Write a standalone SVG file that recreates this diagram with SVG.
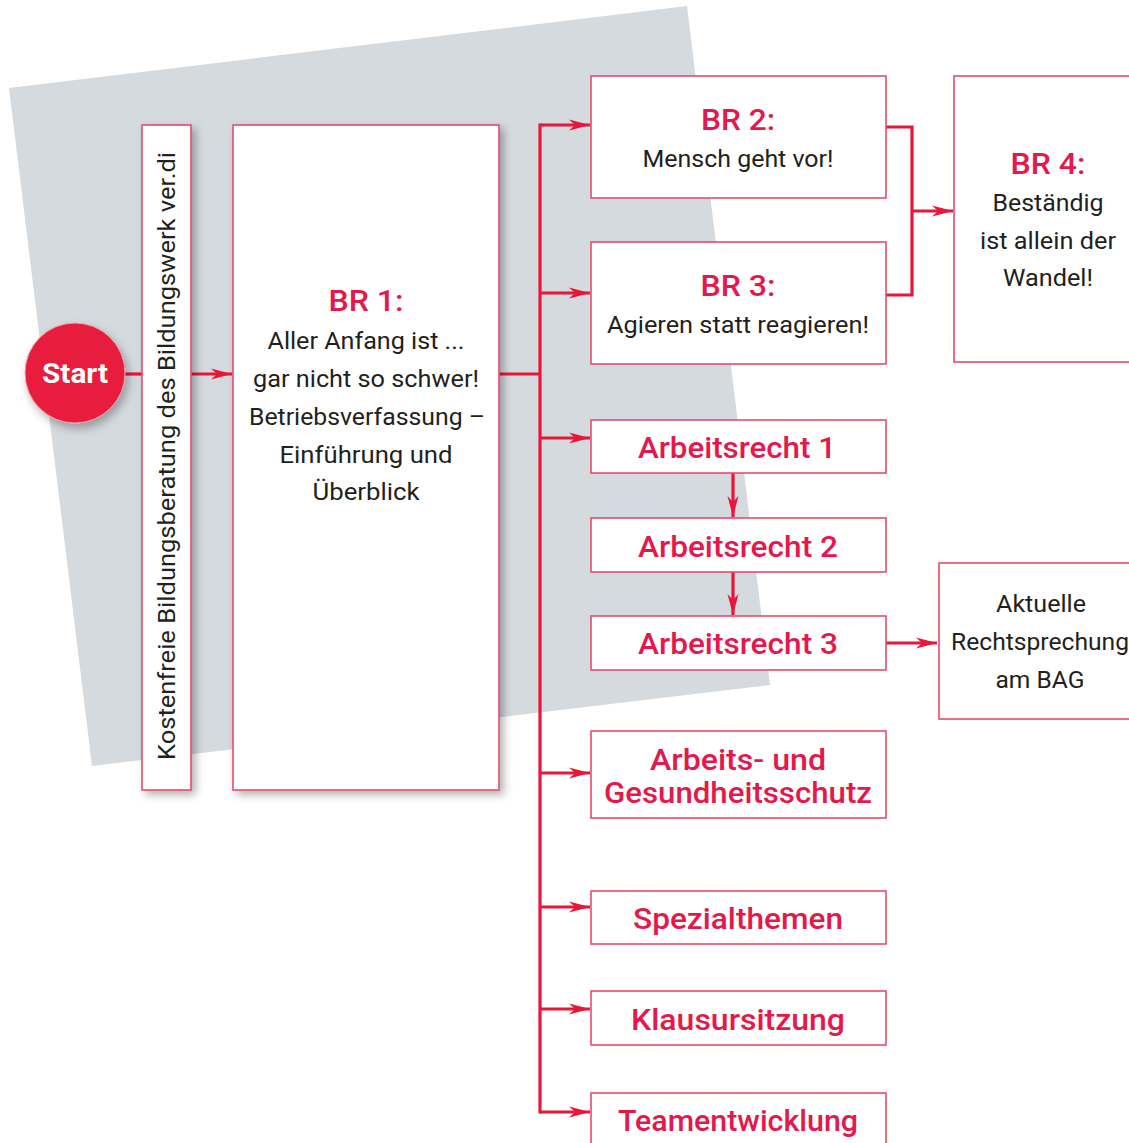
<svg xmlns="http://www.w3.org/2000/svg" width="1129" height="1143" viewBox="0 0 1129 1143">
<defs>
<style>
.box{fill:#ffffff;stroke:#e94a6e;stroke-width:1.6}
.con{fill:none;stroke:#e8173a;stroke-width:3.2}
.t{font-family:"Roboto","DejaVu Sans",sans-serif;text-anchor:middle}
.dark{fill:#231f20;font-size:24px}
.rt{fill:#e5174b;font-size:29px;font-weight:500}
.lab{fill:#e5174b;font-size:30px;font-weight:500}
</style>
<marker id="ah" markerUnits="userSpaceOnUse" markerWidth="22" markerHeight="12" refX="21" refY="6" orient="auto">
<path d="M0,0.5 L21,6 L0,11.5 L6,6 z" fill="#e8173a"/>
</marker>
<filter id="sh" x="-20%" y="-5%" width="150%" height="115%">
<feDropShadow dx="4" dy="4" stdDeviation="4" flood-color="#000" flood-opacity="0.3"/>
</filter>
<filter id="shc" x="-30%" y="-30%" width="170%" height="170%">
<feDropShadow dx="3" dy="5" stdDeviation="5" flood-color="#000" flood-opacity="0.3"/>
</filter>
</defs>

<polygon id="background" points="9,88 687,6 770,685 92,766" fill="#d5dadf"/>

<g id="connectors">
<path class="con" d="M125,374 H142"/>
<path class="con" d="M191,374 H232" marker-end="url(#ah)"/>
<path class="con" d="M499,374 H540"/>
<path class="con" d="M540,125 V1112" stroke-linecap="square"/>
<path class="con" d="M540,125 H590" marker-end="url(#ah)"/>
<path class="con" d="M540,293 H590" marker-end="url(#ah)"/>
<path class="con" d="M540,438 H590" marker-end="url(#ah)"/>
<path class="con" d="M540,773 H590" marker-end="url(#ah)"/>
<path class="con" d="M540,907 H590" marker-end="url(#ah)"/>
<path class="con" d="M540,1009 H590" marker-end="url(#ah)"/>
<path class="con" d="M540,1112 H590" marker-end="url(#ah)"/>
<path class="con" d="M886,127 H912 V295 H886"/>
<path class="con" d="M912,211 H953" marker-end="url(#ah)"/>
<path class="con" d="M733,473 V517" marker-end="url(#ah)"/>
<path class="con" d="M733,572 V615" marker-end="url(#ah)"/>
<path class="con" d="M886,643 H937" marker-end="url(#ah)"/>
</g>

<g id="start">
<circle cx="75" cy="373" r="50" fill="#e81c3c" stroke="#f0a0a8" stroke-width="1" filter="url(#shc)"/>
<text class="t" x="75" y="383" fill="#ffffff" font-size="28" font-weight="700" textLength="66" lengthAdjust="spacingAndGlyphs">Start</text>
</g>

<g id="kostenfreie">
<rect class="box" x="142" y="125" width="49" height="665" filter="url(#sh)"/>
<text class="t dark" transform="translate(175,456) rotate(-90)" x="0" y="0" textLength="608" lengthAdjust="spacingAndGlyphs">Kostenfreie Bildungsberatung des Bildungswerk ver.di</text>
</g>

<g id="br1">
<rect class="box" x="233" y="125" width="266" height="665" filter="url(#sh)"/>
<text class="t rt" x="366" y="311" textLength="75" lengthAdjust="spacingAndGlyphs">BR 1:</text>
<text class="t dark" x="366" y="349" textLength="197" lengthAdjust="spacingAndGlyphs">Aller Anfang ist ...</text>
<text class="t dark" x="366" y="387" textLength="226" lengthAdjust="spacingAndGlyphs">gar nicht so schwer!</text>
<text class="t dark" x="367" y="425" textLength="236" lengthAdjust="spacingAndGlyphs">Betriebsverfassung –</text>
<text class="t dark" x="366" y="463" textLength="173" lengthAdjust="spacingAndGlyphs">Einführung und</text>
<text class="t dark" x="366" y="500" textLength="107" lengthAdjust="spacingAndGlyphs">Überblick</text>
</g>

<g id="br2">
<rect class="box" x="591" y="76" width="295" height="122"/>
<text class="t rt" x="738" y="130" textLength="74" lengthAdjust="spacingAndGlyphs">BR 2:</text>
<text class="t dark" x="738" y="167" textLength="191" lengthAdjust="spacingAndGlyphs">Mensch geht vor!</text>
</g>

<g id="br3">
<rect class="box" x="591" y="242" width="295" height="122"/>
<text class="t rt" x="738" y="296" textLength="75" lengthAdjust="spacingAndGlyphs">BR 3:</text>
<text class="t dark" x="738" y="333" textLength="262" lengthAdjust="spacingAndGlyphs">Agieren statt reagieren!</text>
</g>

<g id="br4">
<rect class="box" x="954" y="76" width="190" height="286"/>
<text class="t rt" x="1048" y="174" textLength="75" lengthAdjust="spacingAndGlyphs">BR 4:</text>
<text class="t dark" x="1048" y="211" textLength="111" lengthAdjust="spacingAndGlyphs">Beständig</text>
<text class="t dark" x="1048" y="249" textLength="136" lengthAdjust="spacingAndGlyphs">ist allein der</text>
<text class="t dark" x="1048" y="286" textLength="90" lengthAdjust="spacingAndGlyphs">Wandel!</text>
</g>

<g id="arbeitsrecht1">
<rect class="box" x="591" y="420" width="295" height="53"/>
<text class="t lab" x="737" y="458" textLength="198" lengthAdjust="spacingAndGlyphs">Arbeitsrecht 1</text>
</g>

<g id="arbeitsrecht2">
<rect class="box" x="591" y="518" width="295" height="54"/>
<text class="t lab" x="738" y="557" textLength="200" lengthAdjust="spacingAndGlyphs">Arbeitsrecht 2</text>
</g>

<g id="arbeitsrecht3">
<rect class="box" x="591" y="616" width="295" height="54"/>
<text class="t lab" x="738" y="654" textLength="200" lengthAdjust="spacingAndGlyphs">Arbeitsrecht 3</text>
</g>

<g id="aktuelle">
<rect class="box" x="939" y="563" width="200" height="156"/>
<text class="t dark" x="1041" y="612" textLength="90" lengthAdjust="spacingAndGlyphs">Aktuelle</text>
<text class="t dark" x="1040" y="650" textLength="178" lengthAdjust="spacingAndGlyphs">Rechtsprechung</text>
<text class="t dark" x="1040" y="688" textLength="89" lengthAdjust="spacingAndGlyphs">am BAG</text>
</g>

<g id="arbeitsschutz">
<rect class="box" x="591" y="731" width="295" height="87"/>
<text class="t lab" x="738" y="770" textLength="176" lengthAdjust="spacingAndGlyphs">Arbeits- und</text>
<text class="t lab" x="738" y="803" textLength="268" lengthAdjust="spacingAndGlyphs">Gesundheitsschutz</text>
</g>

<g id="spezialthemen">
<rect class="box" x="591" y="891" width="295" height="53"/>
<text class="t lab" x="738" y="929" textLength="210" lengthAdjust="spacingAndGlyphs">Spezialthemen</text>
</g>

<g id="klausursitzung">
<rect class="box" x="591" y="991" width="295" height="54"/>
<text class="t lab" x="738" y="1030" textLength="214" lengthAdjust="spacingAndGlyphs">Klausursitzung</text>
</g>

<g id="teamentwicklung">
<rect class="box" x="591" y="1093" width="295" height="60"/>
<text class="t lab" x="738" y="1131" textLength="240" lengthAdjust="spacingAndGlyphs">Teamentwicklung</text>
</g>
</svg>
